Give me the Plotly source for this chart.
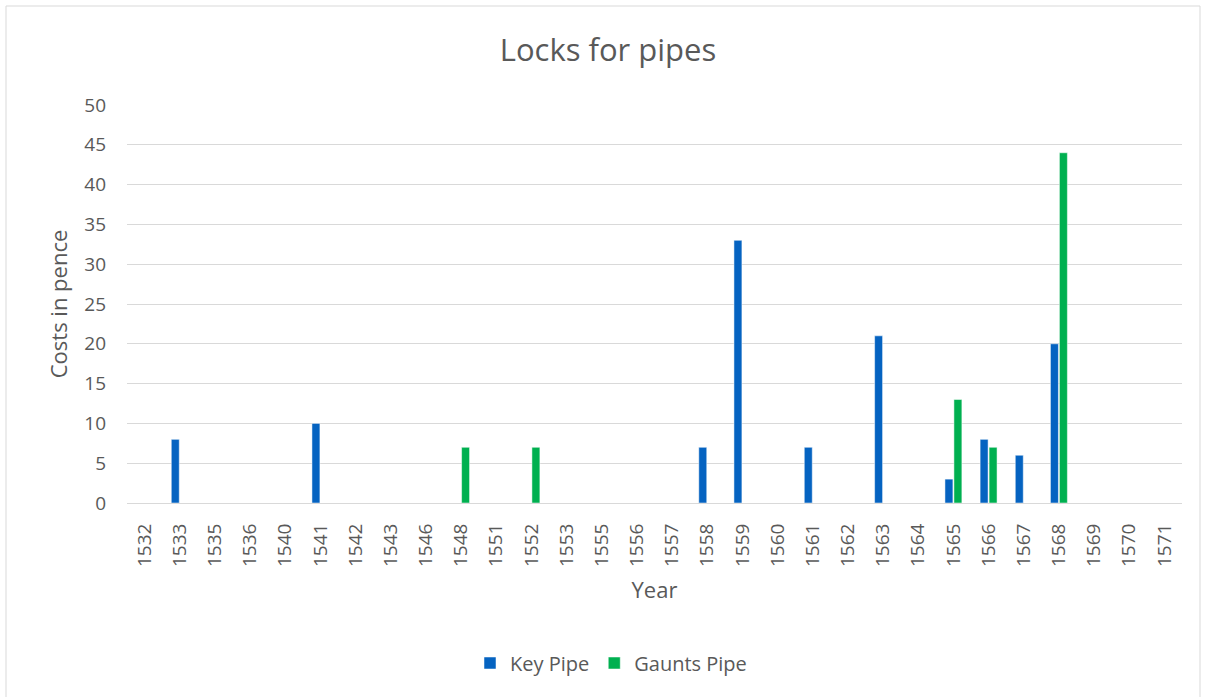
import plotly.graph_objects as go

years = ["1532", "1533", "1535", "1536", "1540", "1541", "1542", "1543", "1546", "1548",
         "1551", "1552", "1553", "1555", "1556", "1557", "1558", "1559", "1560", "1561",
         "1562", "1563", "1564", "1565", "1566", "1567", "1568", "1569", "1570", "1571"]
key_pipe = [None, 8, None, None, None, 10, None, None, None, None,
            None, None, None, None, None, None, 7, 33, None, 7,
            None, 21, None, 3, 8, 6, 20, None, None, None]
gaunts_pipe = [None, None, None, None, None, None, None, None, None, 7,
               None, 7, None, None, None, None, None, None, None, None,
               None, None, None, 13, 7, None, 44, None, None, None]

FONT = "Open Sans, Liberation Sans, sans-serif"
GREY = "#595959"

fig = go.Figure()
fig.add_trace(go.Bar(name="Key Pipe", x=years, y=key_pipe, marker_color="#0563C1",
                     marker_line=dict(color="white", width=0.5)))
fig.add_trace(go.Bar(name="Gaunts Pipe", x=years, y=gaunts_pipe, marker_color="#00B050",
                     marker_line=dict(color="white", width=0.5)))

W, H = 1205, 697
L, R, T, B = 127, 23, 105, 194
pw, ph = W - L - R, H - T - B

def px(x):
    return (x - L) / pw

def py(y):
    return (H - B - y) / ph

fig.update_layout(
    width=W, height=H,
    margin=dict(l=L, r=R, t=T, b=B),
    paper_bgcolor="white", plot_bgcolor="white",
    barmode="group", bargap=0.49, bargroupgap=0.11,
    font=dict(family=FONT, color=GREY),
    title=dict(text="Locks for pipes", xref="container", x=608 / W, xanchor="center",
               y=1 - 50 / H, yanchor="middle",
               font=dict(size=31, color=GREY, family=FONT)),
    xaxis=dict(type="category", tickangle=-90, tickfont=dict(size=19, color=GREY),
               ticklabelstandoff=12,
               title=dict(text="Year", font=dict(size=22, color=GREY), standoff=16),
               showline=True, linecolor="#D9D9D9", linewidth=1, ticks="", showgrid=False,
               categoryorder="array", categoryarray=years),
    yaxis=dict(range=[0, 50], dtick=5, tickfont=dict(size=19, color=GREY),
               ticklabelstandoff=20,
               title=dict(text="Costs in pence", font=dict(size=22, color=GREY), standoff=10),
               showgrid=True, gridcolor="#D9D9D9", gridwidth=1, zeroline=False, ticks="",
               showline=False),
    legend=dict(orientation="h", x=px(611), xanchor="center", y=py(663), yanchor="middle",
                font=dict(size=20, color=GREY), itemwidth=30, traceorder="normal"),
    shapes=[
        dict(type="rect", xref="paper", yref="paper", x0=px(6), x1=px(1200), y0=py(720), y1=py(6),
             line=dict(color="#D9D9D9", width=1), layer="below"),
    ],
)

fig.write_html("out.html", config={"displayModeBar": False},
               post_script="document.body.style.margin='0';document.body.style.overflow='hidden';")
